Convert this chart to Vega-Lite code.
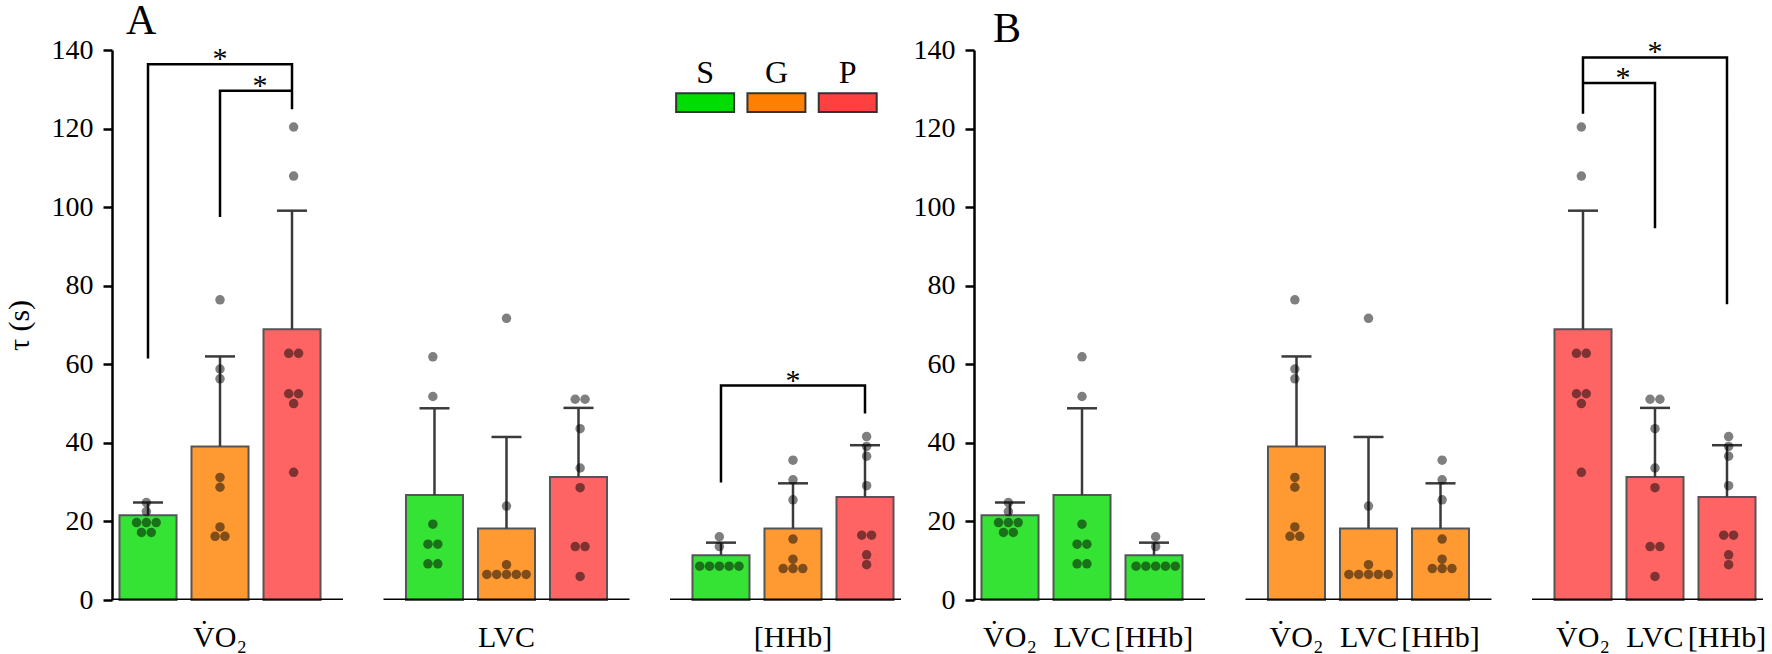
{
  "$schema": "https://vega.github.io/schema/vega-lite/v6.json",
  "autosize": {"type": "pad"},
  "padding": {"left": 4, "top": 0, "right": 8, "bottom": 0},
  "bounds": "flush",
  "spacing": 73,
  "config": {"view": {"stroke": null}, "font": "Liberation Serif"},
  "datasets": {
    "bars": [
      {"measure": "V\u0307O\u2082", "cond": "S", "mean": 21.6, "upper": 24.8},
      {"measure": "V\u0307O\u2082", "cond": "G", "mean": 39.1, "upper": 62.0},
      {"measure": "V\u0307O\u2082", "cond": "P", "mean": 68.9, "upper": 99.1},
      {"measure": "LVC", "cond": "S", "mean": 26.7, "upper": 48.8},
      {"measure": "LVC", "cond": "G", "mean": 18.2, "upper": 41.5},
      {"measure": "LVC", "cond": "P", "mean": 31.3, "upper": 48.9},
      {"measure": "[HHb]", "cond": "S", "mean": 11.4, "upper": 14.6},
      {"measure": "[HHb]", "cond": "G", "mean": 18.2, "upper": 29.7},
      {"measure": "[HHb]", "cond": "P", "mean": 26.2, "upper": 39.4}
    ],
    "pts": [
      {"measure": "V\u0307O\u2082", "cond": "S", "tau": 24.8, "col": 0},
      {"measure": "V\u0307O\u2082", "cond": "S", "tau": 22.5, "col": 0},
      {"measure": "V\u0307O\u2082", "cond": "S", "tau": 19.7, "col": -2},
      {"measure": "V\u0307O\u2082", "cond": "S", "tau": 19.7, "col": 0},
      {"measure": "V\u0307O\u2082", "cond": "S", "tau": 19.7, "col": 2},
      {"measure": "V\u0307O\u2082", "cond": "S", "tau": 17.2, "col": -1},
      {"measure": "V\u0307O\u2082", "cond": "S", "tau": 17.2, "col": 1},
      {"measure": "V\u0307O\u2082", "cond": "G", "tau": 76.4, "col": 0},
      {"measure": "V\u0307O\u2082", "cond": "G", "tau": 58.8, "col": 0},
      {"measure": "V\u0307O\u2082", "cond": "G", "tau": 56.3, "col": 0},
      {"measure": "V\u0307O\u2082", "cond": "G", "tau": 31.2, "col": 0},
      {"measure": "V\u0307O\u2082", "cond": "G", "tau": 28.7, "col": 0},
      {"measure": "V\u0307O\u2082", "cond": "G", "tau": 18.6, "col": 0},
      {"measure": "V\u0307O\u2082", "cond": "G", "tau": 16.2, "col": -1},
      {"measure": "V\u0307O\u2082", "cond": "G", "tau": 16.2, "col": 1},
      {"measure": "V\u0307O\u2082", "cond": "P", "tau": 120.4, "col": 0},
      {"measure": "V\u0307O\u2082", "cond": "P", "tau": 107.9, "col": 0},
      {"measure": "V\u0307O\u2082", "cond": "P", "tau": 62.8, "col": -1},
      {"measure": "V\u0307O\u2082", "cond": "P", "tau": 62.8, "col": 1},
      {"measure": "V\u0307O\u2082", "cond": "P", "tau": 52.5, "col": -1},
      {"measure": "V\u0307O\u2082", "cond": "P", "tau": 52.5, "col": 1},
      {"measure": "V\u0307O\u2082", "cond": "P", "tau": 50.0, "col": 0},
      {"measure": "V\u0307O\u2082", "cond": "P", "tau": 32.5, "col": 0},
      {"measure": "LVC", "cond": "S", "tau": 61.9, "col": 0},
      {"measure": "LVC", "cond": "S", "tau": 51.8, "col": 0},
      {"measure": "LVC", "cond": "S", "tau": 19.3, "col": 0},
      {"measure": "LVC", "cond": "S", "tau": 14.2, "col": -1},
      {"measure": "LVC", "cond": "S", "tau": 14.2, "col": 1},
      {"measure": "LVC", "cond": "S", "tau": 9.2, "col": -1},
      {"measure": "LVC", "cond": "S", "tau": 9.2, "col": 1},
      {"measure": "LVC", "cond": "G", "tau": 71.7, "col": 0},
      {"measure": "LVC", "cond": "G", "tau": 23.9, "col": 0},
      {"measure": "LVC", "cond": "G", "tau": 9.0, "col": 0},
      {"measure": "LVC", "cond": "G", "tau": 6.5, "col": -4},
      {"measure": "LVC", "cond": "G", "tau": 6.5, "col": -2},
      {"measure": "LVC", "cond": "G", "tau": 6.5, "col": 0},
      {"measure": "LVC", "cond": "G", "tau": 6.5, "col": 2},
      {"measure": "LVC", "cond": "G", "tau": 6.5, "col": 4},
      {"measure": "LVC", "cond": "P", "tau": 51.1, "col": -1},
      {"measure": "LVC", "cond": "P", "tau": 51.1, "col": 1},
      {"measure": "LVC", "cond": "P", "tau": 43.6, "col": 0},
      {"measure": "LVC", "cond": "P", "tau": 33.6, "col": 0},
      {"measure": "LVC", "cond": "P", "tau": 28.6, "col": 0},
      {"measure": "LVC", "cond": "P", "tau": 13.6, "col": -1},
      {"measure": "LVC", "cond": "P", "tau": 13.6, "col": 1},
      {"measure": "LVC", "cond": "P", "tau": 6.0, "col": 0},
      {"measure": "[HHb]", "cond": "S", "tau": 16.1, "col": 0},
      {"measure": "[HHb]", "cond": "S", "tau": 13.6, "col": 0},
      {"measure": "[HHb]", "cond": "S", "tau": 8.6, "col": -4},
      {"measure": "[HHb]", "cond": "S", "tau": 8.6, "col": -2},
      {"measure": "[HHb]", "cond": "S", "tau": 8.6, "col": 0},
      {"measure": "[HHb]", "cond": "S", "tau": 8.6, "col": 2},
      {"measure": "[HHb]", "cond": "S", "tau": 8.6, "col": 4},
      {"measure": "[HHb]", "cond": "G", "tau": 35.6, "col": 0},
      {"measure": "[HHb]", "cond": "G", "tau": 30.6, "col": 0},
      {"measure": "[HHb]", "cond": "G", "tau": 25.5, "col": 0},
      {"measure": "[HHb]", "cond": "G", "tau": 15.5, "col": 0},
      {"measure": "[HHb]", "cond": "G", "tau": 10.4, "col": 0},
      {"measure": "[HHb]", "cond": "G", "tau": 8.0, "col": -2},
      {"measure": "[HHb]", "cond": "G", "tau": 8.0, "col": 0},
      {"measure": "[HHb]", "cond": "G", "tau": 8.0, "col": 2},
      {"measure": "[HHb]", "cond": "P", "tau": 41.6, "col": 0},
      {"measure": "[HHb]", "cond": "P", "tau": 39.1, "col": 0},
      {"measure": "[HHb]", "cond": "P", "tau": 36.6, "col": 0},
      {"measure": "[HHb]", "cond": "P", "tau": 29.1, "col": 0},
      {"measure": "[HHb]", "cond": "P", "tau": 16.5, "col": -1},
      {"measure": "[HHb]", "cond": "P", "tau": 16.5, "col": 1},
      {"measure": "[HHb]", "cond": "P", "tau": 11.5, "col": 0},
      {"measure": "[HHb]", "cond": "P", "tau": 9.0, "col": 0}
    ],
    "bracketsA": [
      {"id": "a1", "measure": "V\u0307O\u2082", "cond": "S", "tau": 61.5, "o": 1},
      {"id": "a1", "measure": "V\u0307O\u2082", "cond": "S", "tau": 136.4, "o": 2},
      {"id": "a1", "measure": "V\u0307O\u2082", "cond": "P", "tau": 136.4, "o": 3},
      {"id": "a1", "measure": "V\u0307O\u2082", "cond": "P", "tau": 124.9, "o": 4},
      {"id": "a2", "measure": "V\u0307O\u2082", "cond": "G", "tau": 97.5, "o": 1},
      {"id": "a2", "measure": "V\u0307O\u2082", "cond": "G", "tau": 129.6, "o": 2},
      {"id": "a2", "measure": "V\u0307O\u2082", "cond": "P", "tau": 129.6, "o": 3},
      {"id": "a3", "measure": "[HHb]", "cond": "S", "tau": 29.9, "o": 1},
      {"id": "a3", "measure": "[HHb]", "cond": "S", "tau": 54.6, "o": 2},
      {"id": "a3", "measure": "[HHb]", "cond": "P", "tau": 54.6, "o": 3},
      {"id": "a3", "measure": "[HHb]", "cond": "P", "tau": 47.5, "o": 4}
    ],
    "bracketsB": [
      {"id": "b1", "measure": "V\u0307O\u2082", "cond": "P", "tau": 123.8, "o": 1},
      {"id": "b1", "measure": "V\u0307O\u2082", "cond": "P", "tau": 138.1, "o": 2},
      {"id": "b1", "measure": "[HHb]", "cond": "P", "tau": 138.1, "o": 3},
      {"id": "b1", "measure": "[HHb]", "cond": "P", "tau": 75.3, "o": 4},
      {"id": "b2", "measure": "V\u0307O\u2082", "cond": "P", "tau": 131.6, "o": 1},
      {"id": "b2", "measure": "LVC", "cond": "P", "tau": 131.6, "o": 2},
      {"id": "b2", "measure": "LVC", "cond": "P", "tau": 94.6, "o": 3}
    ],
    "starsA": [
      {"measure": "V\u0307O\u2082", "cond": "G", "tau": 136.4, "between": false},
      {"measure": "V\u0307O\u2082", "cond": "G", "tau": 129.6, "between": true},
      {"measure": "[HHb]", "cond": "G", "tau": 54.6, "between": false}
    ],
    "starsB": [
      {"measure": "LVC", "cond": "P", "tau": 138.1, "between": false},
      {"measure": "V\u0307O\u2082", "cond": "P", "tau": 131.6, "between": true}
    ],
    "leg": [
      {"cond": "S"},
      {"cond": "G"},
      {"cond": "P"}
    ],
    "panelA": [{"panel": "A", "measure": "V\u0307O\u2082"}],
    "panelB": [{"panel": "B", "cond": "S"}]
  },
  "hconcat": [
    {
      "width": 789,
      "height": 550,
      "layer": [
        {
          "layer": [
            {
              "data": {"name": "bars"},
              "mark": {"type": "bar", "stroke": "#555555", "strokeWidth": 2},
              "encoding": {
                "x": {"field": "measure", "type": "nominal", "scale": {"domain": ["V\u0307O\u2082", "LVC", "[HHb]"], "paddingInner": 0.246, "paddingOuter": 0}, "axis": null},
                "xOffset": {"field": "cond", "type": "nominal", "scale": {"domain": ["S", "G", "P"], "paddingInner": 0.208, "paddingOuter": 0.104}},
                "y": {
                  "field": "mean", "type": "quantitative",
                  "scale": {"domain": [0, 140], "nice": false},
                  "axis": {
                    "title": "\u03c4 (s)", "titleFontSize": 30, "titleFontWeight": "normal", "titleColor": "black", "titlePadding": 17,
                    "values": [0, 10, 20, 30, 40, 50, 60, 70, 80, 90, 100, 110, 120, 130, 140],
                    "labelExpr": "datum.value % 20 === 0 ? datum.label : ''",
                    "tickSize": {"condition": {"test": "datum.value % 20 === 0", "value": 9}, "value": 5},
                    "labelFontSize": 28, "labelColor": "black", "labelPadding": 10,
                    "domainColor": "black", "domainWidth": 2.5, "tickColor": "black", "tickWidth": 2.5, "grid": false
                  }
                },
                "fill": {"field": "cond", "type": "nominal", "scale": {"domain": ["S", "G", "P"], "range": ["#35e335", "#ff9a33", "#ff6464"]}, "legend": null}
              }
            },
            {
              "data": {"name": "bars"},
              "mark": {"type": "rule", "color": "#3a3a3a", "strokeWidth": 2.5},
              "encoding": {
                "x": {"field": "measure", "type": "nominal", "axis": null},
                "xOffset": {"field": "cond", "type": "nominal", "scale": {"domain": ["S", "G", "P"], "paddingInner": 0.208, "paddingOuter": 0.104}},
                "y": {"field": "mean", "type": "quantitative"},
                "y2": {"field": "upper"}
              }
            },
            {
              "data": {"name": "bars"},
              "mark": {"type": "tick", "orient": "horizontal", "size": 30, "thickness": 2.5, "color": "#3a3a3a", "opacity": 1},
              "encoding": {
                "x": {"field": "measure", "type": "nominal", "axis": null},
                "xOffset": {"field": "cond", "type": "nominal", "scale": {"domain": ["S", "G", "P"], "paddingInner": 0.208, "paddingOuter": 0.104}},
                "y": {"field": "upper", "type": "quantitative"}
              }
            },
            {
              "data": {"name": "bars"},
              "transform": [{"filter": "datum.cond === 'S'"}],
              "mark": {"type": "tick", "orient": "horizontal", "size": 246, "thickness": 3, "color": "black", "opacity": 1, "clip": true},
              "encoding": {
                "x": {"field": "measure", "type": "nominal", "axis": null},
                "y": {"datum": 0, "type": "quantitative"}
              }
            },
            {
              "data": {"name": "pts"},
              "transform": [{"calculate": "datum.cond + '|' + datum.col", "as": "slot"}],
              "mark": {"type": "point", "filled": true, "color": "black", "opacity": 0.5, "size": 90, "strokeWidth": 0},
              "encoding": {
                "x": {"field": "measure", "type": "nominal", "axis": null},
                "xOffset": {"field": "slot", "type": "nominal", "scale": {"paddingInner": 0, "paddingOuter": 0, "domain": [
                  "S|-7", "S|-6", "S|-5", "S|-4", "S|-3", "S|-2", "S|-1", "S|0", "S|1", "S|2", "S|3", "S|4", "S|5", "S|6", "S|7",
                  "G|-7", "G|-6", "G|-5", "G|-4", "G|-3", "G|-2", "G|-1", "G|0", "G|1", "G|2", "G|3", "G|4", "G|5", "G|6", "G|7",
                  "P|-7", "P|-6", "P|-5", "P|-4", "P|-3", "P|-2", "P|-1", "P|0", "P|1", "P|2", "P|3", "P|4", "P|5", "P|6", "P|7"]}},
                "y": {"field": "tau", "type": "quantitative"}
              }
            },
            {
              "data": {"name": "bracketsA"},
              "mark": {"type": "line", "color": "black", "strokeWidth": 2.5, "interpolate": "linear"},
              "encoding": {
                "x": {"field": "measure", "type": "nominal", "axis": null},
                "xOffset": {"field": "cond", "type": "nominal", "scale": {"type": "point", "domain": ["S", "G", "P"], "padding": 0.5}},
                "y": {"field": "tau", "type": "quantitative"},
                "detail": {"field": "id"},
                "order": {"field": "o"}
              }
            },
            {
              "data": {"name": "starsA"},
              "transform": [{"filter": "!datum.between"}],
              "mark": {"type": "text", "text": "*", "fontSize": 30, "baseline": "alphabetic", "dy": 4, "color": "black"},
              "encoding": {
                "x": {"field": "measure", "type": "nominal", "axis": null},
                "xOffset": {"field": "cond", "type": "nominal", "scale": {"type": "point", "domain": ["S", "G", "P"], "padding": 0.5}},
                "y": {"field": "tau", "type": "quantitative"}
              }
            },
            {
              "data": {"name": "starsA"},
              "transform": [{"filter": "datum.between"}],
              "mark": {"type": "text", "text": "*", "fontSize": 30, "baseline": "alphabetic", "dy": 4, "dx": 40, "color": "black"},
              "encoding": {
                "x": {"field": "measure", "type": "nominal", "axis": null},
                "xOffset": {"field": "cond", "type": "nominal", "scale": {"type": "point", "domain": ["S", "G", "P"], "padding": 0.5}},
                "y": {"field": "tau", "type": "quantitative"}
              }
            },
            {
              "data": {"name": "bars"},
              "transform": [{"filter": "datum.cond === 'S'"}],
              "mark": {"type": "text", "fontSize": 30, "baseline": "alphabetic", "dy": 47, "color": "black"},
              "encoding": {
                "x": {"field": "measure", "type": "nominal", "axis": null},
                "y": {"datum": 0, "type": "quantitative"},
                "text": {"field": "measure"}
              }
            },
            {
              "data": {"name": "panelA"},
              "mark": {"type": "text", "fontSize": 42, "baseline": "alphabetic", "align": "left", "dx": -94, "dy": -16, "color": "black"},
              "encoding": {
                "x": {"field": "measure", "type": "nominal", "axis": null},
                "y": {"datum": 140, "type": "quantitative"},
                "text": {"field": "panel"}
              }
            }
          ],
          "resolve": {"scale": {"xOffset": "independent"}}
        },
        {
          "data": {"name": "leg"},
          "layer": [
            {
              "mark": {"type": "bar", "stroke": "#333333", "strokeWidth": 2},
              "encoding": {
                "x": {"field": "cond", "type": "nominal", "scale": {"domain": ["d0", "d1", "d2", "d3", "d4", "d5", "d6", "S", "G", "P"], "paddingInner": 0.187, "paddingOuter": 0.626, "align": 0.728}, "axis": null},
                "y": {"datum": 124.25, "type": "quantitative"},
                "y2": {"datum": 129.0},
                "fill": {"field": "cond", "type": "nominal", "scale": {"domain": ["S", "G", "P"], "range": ["#00dd00", "#ff8000", "#ff4040"]}, "legend": null}
              }
            },
            {
              "mark": {"type": "text", "fontSize": 32, "baseline": "alphabetic", "color": "black"},
              "encoding": {
                "x": {"field": "cond", "type": "nominal", "axis": null},
                "y": {"datum": 131.6, "type": "quantitative"},
                "text": {"field": "cond"}
              }
            }
          ]
        }
      ],
      "resolve": {"scale": {"x": "independent", "fill": "independent"}, "axis": {"x": "independent"}}
    },
    {
      "width": 789,
      "height": 550,
      "layer": [
        {
          "data": {"name": "bars"},
          "mark": {"type": "bar", "stroke": "#555555", "strokeWidth": 2},
          "encoding": {
            "x": {"field": "cond", "type": "nominal", "scale": {"domain": ["S", "G", "P"], "paddingInner": 0.246, "paddingOuter": 0}, "axis": null},
            "xOffset": {"field": "measure", "type": "nominal", "scale": {"domain": ["V\u0307O\u2082", "LVC", "[HHb]"], "paddingInner": 0.208, "paddingOuter": 0.104}},
            "y": {
              "field": "mean", "type": "quantitative",
              "scale": {"domain": [0, 140], "nice": false},
              "axis": {
                "title": null,
                "values": [0, 10, 20, 30, 40, 50, 60, 70, 80, 90, 100, 110, 120, 130, 140],
                "labelExpr": "datum.value % 20 === 0 ? datum.label : ''",
                "tickSize": {"condition": {"test": "datum.value % 20 === 0", "value": 9}, "value": 5},
                "labelFontSize": 28, "labelColor": "black", "labelPadding": 10,
                "domainColor": "black", "domainWidth": 2.5, "tickColor": "black", "tickWidth": 2.5, "grid": false
              }
            },
            "fill": {"field": "cond", "type": "nominal", "scale": {"domain": ["S", "G", "P"], "range": ["#35e335", "#ff9a33", "#ff6464"]}, "legend": null}
          }
        },
        {
          "data": {"name": "bars"},
          "mark": {"type": "rule", "color": "#3a3a3a", "strokeWidth": 2.5},
          "encoding": {
            "x": {"field": "cond", "type": "nominal", "axis": null},
            "xOffset": {"field": "measure", "type": "nominal", "scale": {"domain": ["V\u0307O\u2082", "LVC", "[HHb]"], "paddingInner": 0.208, "paddingOuter": 0.104}},
            "y": {"field": "mean", "type": "quantitative"},
            "y2": {"field": "upper"}
          }
        },
        {
          "data": {"name": "bars"},
          "mark": {"type": "tick", "orient": "horizontal", "size": 30, "thickness": 2.5, "color": "#3a3a3a", "opacity": 1},
          "encoding": {
            "x": {"field": "cond", "type": "nominal", "axis": null},
            "xOffset": {"field": "measure", "type": "nominal", "scale": {"domain": ["V\u0307O\u2082", "LVC", "[HHb]"], "paddingInner": 0.208, "paddingOuter": 0.104}},
            "y": {"field": "upper", "type": "quantitative"}
          }
        },
        {
          "data": {"name": "bars"},
          "transform": [{"filter": "datum.measure === 'LVC'"}],
          "mark": {"type": "tick", "orient": "horizontal", "size": 246, "thickness": 3, "color": "black", "opacity": 1, "clip": true},
          "encoding": {
            "x": {"field": "cond", "type": "nominal", "axis": null},
            "y": {"datum": 0, "type": "quantitative"}
          }
        },
        {
          "data": {"name": "pts"},
          "transform": [{"calculate": "datum.measure + '|' + datum.col", "as": "slot"}],
          "mark": {"type": "point", "filled": true, "color": "black", "opacity": 0.5, "size": 90, "strokeWidth": 0},
          "encoding": {
            "x": {"field": "cond", "type": "nominal", "axis": null},
            "xOffset": {"field": "slot", "type": "nominal", "scale": {"paddingInner": 0, "paddingOuter": 0, "domain": [
              "V\u0307O\u2082|-7", "V\u0307O\u2082|-6", "V\u0307O\u2082|-5", "V\u0307O\u2082|-4", "V\u0307O\u2082|-3", "V\u0307O\u2082|-2", "V\u0307O\u2082|-1", "V\u0307O\u2082|0", "V\u0307O\u2082|1", "V\u0307O\u2082|2", "V\u0307O\u2082|3", "V\u0307O\u2082|4", "V\u0307O\u2082|5", "V\u0307O\u2082|6", "V\u0307O\u2082|7",
              "LVC|-7", "LVC|-6", "LVC|-5", "LVC|-4", "LVC|-3", "LVC|-2", "LVC|-1", "LVC|0", "LVC|1", "LVC|2", "LVC|3", "LVC|4", "LVC|5", "LVC|6", "LVC|7",
              "[HHb]|-7", "[HHb]|-6", "[HHb]|-5", "[HHb]|-4", "[HHb]|-3", "[HHb]|-2", "[HHb]|-1", "[HHb]|0", "[HHb]|1", "[HHb]|2", "[HHb]|3", "[HHb]|4", "[HHb]|5", "[HHb]|6", "[HHb]|7"]}},
            "y": {"field": "tau", "type": "quantitative"}
          }
        },
        {
          "data": {"name": "bracketsB"},
          "mark": {"type": "line", "color": "black", "strokeWidth": 2.5, "interpolate": "linear"},
          "encoding": {
            "x": {"field": "cond", "type": "nominal", "axis": null},
            "xOffset": {"field": "measure", "type": "nominal", "scale": {"type": "point", "domain": ["V\u0307O\u2082", "LVC", "[HHb]"], "padding": 0.5}},
            "y": {"field": "tau", "type": "quantitative"},
            "detail": {"field": "id"},
            "order": {"field": "o"}
          }
        },
        {
          "data": {"name": "starsB"},
          "transform": [{"filter": "!datum.between"}],
          "mark": {"type": "text", "text": "*", "fontSize": 30, "baseline": "alphabetic", "dy": 4, "color": "black"},
          "encoding": {
            "x": {"field": "cond", "type": "nominal", "axis": null},
            "xOffset": {"field": "measure", "type": "nominal", "scale": {"type": "point", "domain": ["V\u0307O\u2082", "LVC", "[HHb]"], "padding": 0.5}},
            "y": {"field": "tau", "type": "quantitative"}
          }
        },
        {
          "data": {"name": "starsB"},
          "transform": [{"filter": "datum.between"}],
          "mark": {"type": "text", "text": "*", "fontSize": 30, "baseline": "alphabetic", "dy": 4, "dx": 40, "color": "black"},
          "encoding": {
            "x": {"field": "cond", "type": "nominal", "axis": null},
            "xOffset": {"field": "measure", "type": "nominal", "scale": {"type": "point", "domain": ["V\u0307O\u2082", "LVC", "[HHb]"], "padding": 0.5}},
            "y": {"field": "tau", "type": "quantitative"}
          }
        },
        {
          "data": {"name": "bars"},
          "mark": {"type": "text", "fontSize": 30, "baseline": "alphabetic", "dy": 47, "color": "black"},
          "encoding": {
            "x": {"field": "cond", "type": "nominal", "axis": null},
            "xOffset": {"field": "measure", "type": "nominal", "scale": {"type": "point", "domain": ["V\u0307O\u2082", "LVC", "[HHb]"], "padding": 0.5}},
            "y": {"datum": 0, "type": "quantitative"},
            "text": {"field": "measure"}
          }
        },
        {
          "data": {"name": "panelB"},
          "mark": {"type": "text", "fontSize": 42, "baseline": "alphabetic", "align": "left", "dx": -89, "dy": -8, "color": "black"},
          "encoding": {
            "x": {"field": "cond", "type": "nominal", "axis": null},
            "y": {"datum": 140, "type": "quantitative"},
            "text": {"field": "panel"}
          }
        }
      ],
      "resolve": {"scale": {"xOffset": "independent"}}
    }
  ]
}
